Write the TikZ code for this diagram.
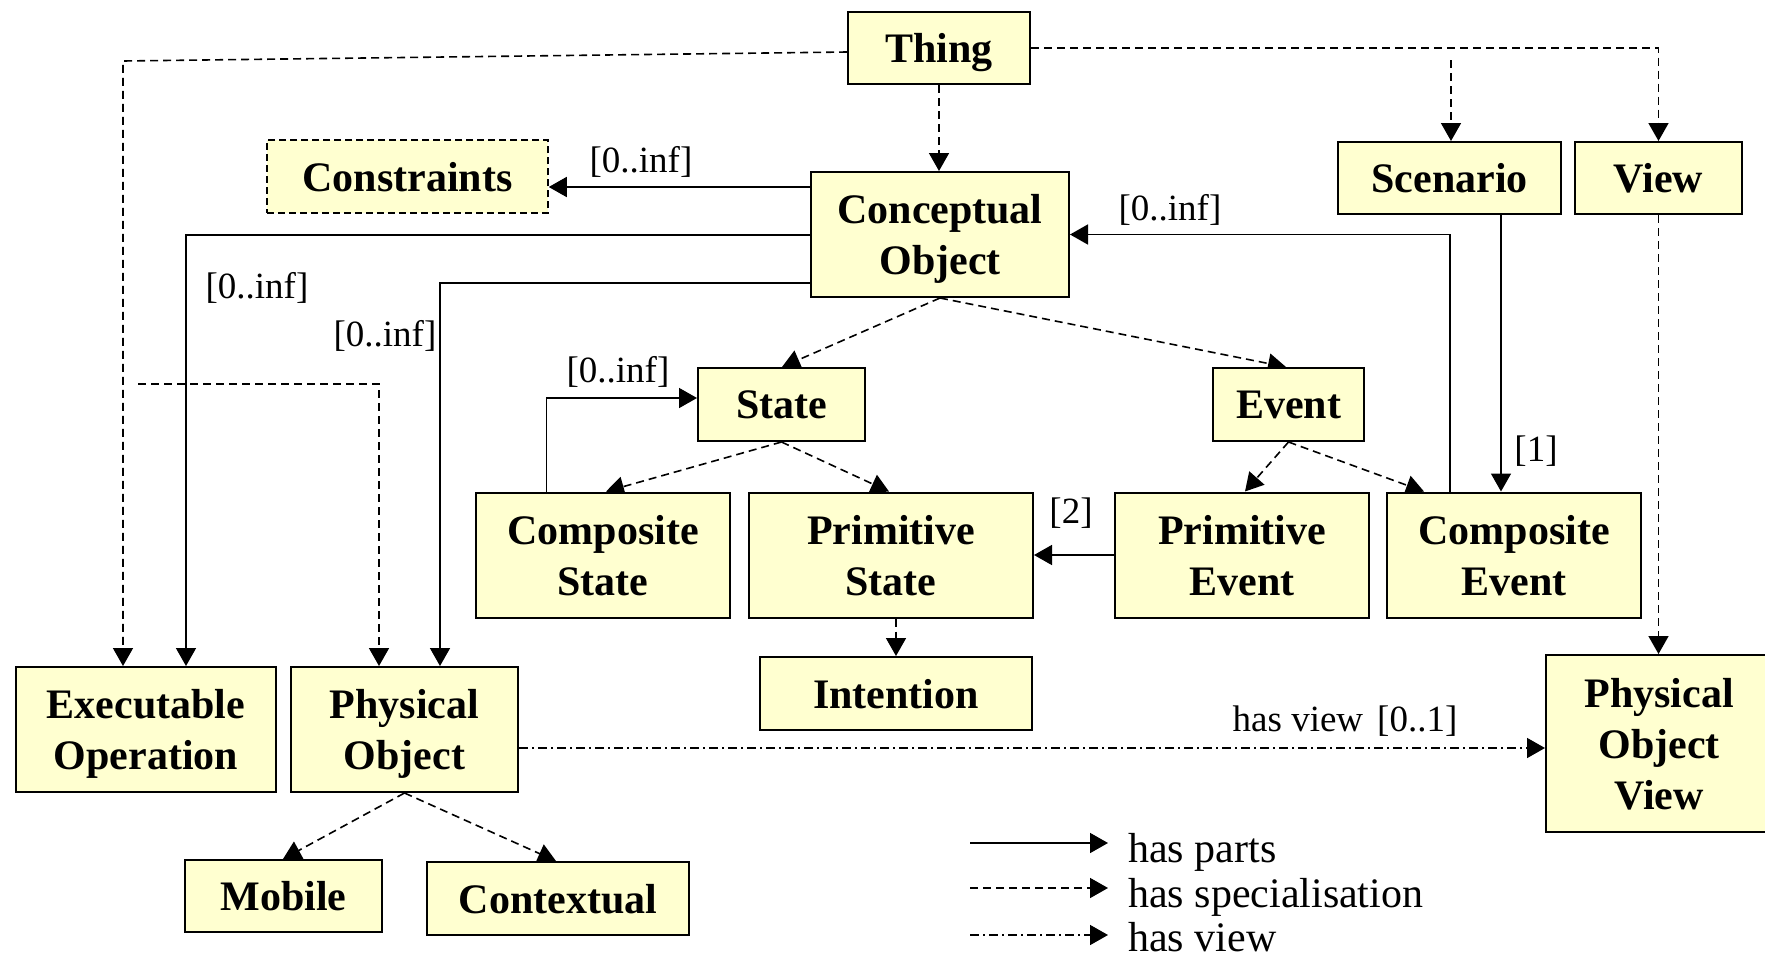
\documentclass[tikz,border=0pt]{standalone}
\usepackage{fontspec}
\setmainfont{Liberation Serif}
\usetikzlibrary{arrows.meta,calc,backgrounds}
\definecolor{boxfill}{RGB}{255,255,208}

\tikzset{
  box/.style={draw, line width=2pt, fill=boxfill, inner sep=0pt, align=center,
    text depth=0pt, font=\fontsize{42}{51}\selectfont\bfseries},
  lbl/.style={inner sep=0pt, font=\fontsize{37}{44}\selectfont},
  legtext/.style={inner sep=0pt, anchor=base west, font=\fontsize{42}{50}\selectfont},
  tip/.style={-{Triangle[length=18pt,width=20pt]}},
  parts/.style={line width=1.6pt, tip},
  spec/.style={line width=1.6pt, dash pattern=on 8pt off 5pt, tip},
  viewof/.style={line width=1.6pt, dash pattern=on 9pt off 4pt on 2pt off 4pt, tip},
}

\begin{document}
\begin{tikzpicture}[x=1pt, y=-1pt]
\useasboundingbox (0,0) rectangle (1765,956);

% ---- concepts ----
\node[box, minimum width=182pt, minimum height=72pt] (thing) at (939,48) {Thing};
\node[box, line width=1.5pt, dash pattern=on 7pt off 4pt, minimum width=281pt, minimum height=73pt] (constraints) at (407.5,176.5) {Constraints};
\node[box, minimum width=258pt, minimum height=125pt] (concept) at (940,234.5) {Conceptual\\Object};
\node[box, minimum width=223pt, minimum height=72pt] (scenario) at (1449.5,178) {Scenario};
\node[box, minimum width=167pt, minimum height=72pt] (view) at (1658.5,178) {View};
\node[box, minimum width=167pt, minimum height=73pt] (state) at (781.5,404.5) {State};
\node[box, minimum width=151pt, minimum height=73pt] (event) at (1288.5,404.5) {Event};
\node[box, minimum width=254pt, minimum height=125pt] (cstate) at (603,555) {Composite\\State};
\node[box, minimum width=284pt, minimum height=125pt] (pstate) at (891,555) {Primitive\\State};
\node[box, minimum width=254pt, minimum height=125pt] (pevent) at (1242,555) {Primitive\\Event};
\node[box, minimum width=254pt, minimum height=125pt] (cevent) at (1514,555) {Composite\\Event};
\node[box, minimum width=272pt, minimum height=73pt] (intention) at (896,693.5) {Intention};
\node[box, minimum width=260pt, minimum height=125pt] (execop) at (146,729.5) {Executable\\Operation};
\node[box, minimum width=227pt, minimum height=125pt] (physobj) at (404.5,729.5) {Physical\\Object};
\node[box, minimum width=197pt, minimum height=72pt] (mobile) at (283.5,896) {Mobile};
\node[box, minimum width=262pt, minimum height=73pt] (contextual) at (558,898.5) {Contextual};
\node[box, minimum width=226pt, minimum height=177pt] (poview) at (1659,743.5) {Physical\\Object\\View};

% ---- multiplicities ----
\node[lbl] (m1) at (641,162) {[0..inf]};
\node[lbl] (m2) at (257,288) {[0..inf]};
\node[lbl] (m3) at (385,336) {[0..inf]};
\node[lbl] (m4) at (618,372) {[0..inf]};
\node[lbl] (m5) at (1170,210) {[0..inf]};
\node[lbl] (m6) at (1536,451) {[1]};
\node[lbl] (m7) at (1071,513) {[2]};
\node[lbl] (m8) at (1345,721) {has view\hspace{14pt}[0..1]};

% ---- legend ----
\coordinate (k1a) at (970,843);  \coordinate (k1b) at (1108,843);
\coordinate (k2a) at (970,888);  \coordinate (k2b) at (1108,888);
\coordinate (k3a) at (970,935);  \coordinate (k3b) at (1108,935);
\node[legtext] (t1) at (1128,862) {has parts};
\node[legtext] (t2) at (1128,907) {has specialisation};
\node[legtext] (t3) at (1128,951) {has view};

\begin{scope}[on background layer]
  \fill[white] (0,0) rectangle (1765,956);

  % specialisation links
  \draw[spec] (thing.south) -- (thing.south |- concept.north);
  \coordinate (tl) at (123,61);
  \draw[spec] ($(thing.west)+(0,4)$) -- (tl) -- (tl |- execop.north);
  \draw[spec] (thing.east) -- (thing.east -| view.north) -- (view.north);
  \coordinate (sb) at (1451,60);
  \draw[spec] (sb) -- (sb |- scenario.north);
  \coordinate (pl) at (138,384);
  \coordinate (pr) at (379,384);
  \draw[spec] (pl) -- (pr) -- (pr |- physobj.north);
  \draw[spec] (concept.south) -- ($(state.north west)+(85,0)$);
  \draw[spec] (concept.south) -- ($(event.north west)+(74,0)$);
  \draw[spec] (state.south) -- ($(cstate.north west)+(131,0)$);
  \draw[spec] (state.south) -- ($(pstate.north west)+(141,0)$);
  \draw[spec] (event.south) -- ($(pevent.north west)+(131,0)$);
  \draw[spec] (event.south) -- ($(cevent.north west)+(38,0)$);
  \draw[spec] (pstate.south -| intention.north) -- (intention.north);
  \draw[spec] (view.south) -- (view.south |- poview.north);
  \draw[spec] (physobj.south) -- ($(mobile.north west)+(99,0)$);
  \draw[spec] (physobj.south) -- ($(contextual.north west)+(130,0)$);

  % part-of links
  \coordinate (c1) at ($(concept.north west)+(0,16)$);
  \draw[parts] (c1) -- (c1 -| constraints.east);
  \coordinate (c2) at ($(concept.north west)+(0,64)$);
  \coordinate (e2) at ($(execop.north west)+(171,0)$);
  \draw[parts] (c2) -- (c2 -| e2) -- (e2);
  \coordinate (c3) at ($(concept.north west)+(0,112)$);
  \coordinate (p3) at ($(physobj.north west)+(150,0)$);
  \draw[parts] (c3) -- (c3 -| p3) -- (p3);
  \coordinate (cs) at ($(cstate.north west)+(71.5,0)$);
  \coordinate (sl) at ($(state.west)+(0,-6.5)$);
  \draw[parts] (cs) -- (cs |- sl) -- (sl);
  \coordinate (sc) at ($(scenario.south)+(51.5,0)$);
  \draw[parts] (sc) -- (sc |- cevent.north);
  \coordinate (ce) at ($(cevent.north west)+(64,0)$);
  \draw[parts] (ce) -- (ce |- concept.east) -- (concept.east);
  \draw[parts] (pevent.west) -- (pstate.east);

  % view link
  \coordinate (pv) at ($(physobj.east)+(0,18.5)$);
  \draw[viewof] (pv) -- (pv -| poview.west);

  % legend lines
  \draw[parts] (k1a) -- (k1b);
  \draw[spec] (k2a) -- (k2b);
  \draw[viewof] (k3a) -- (k3b);
\end{scope}

\end{tikzpicture}
\end{document}
